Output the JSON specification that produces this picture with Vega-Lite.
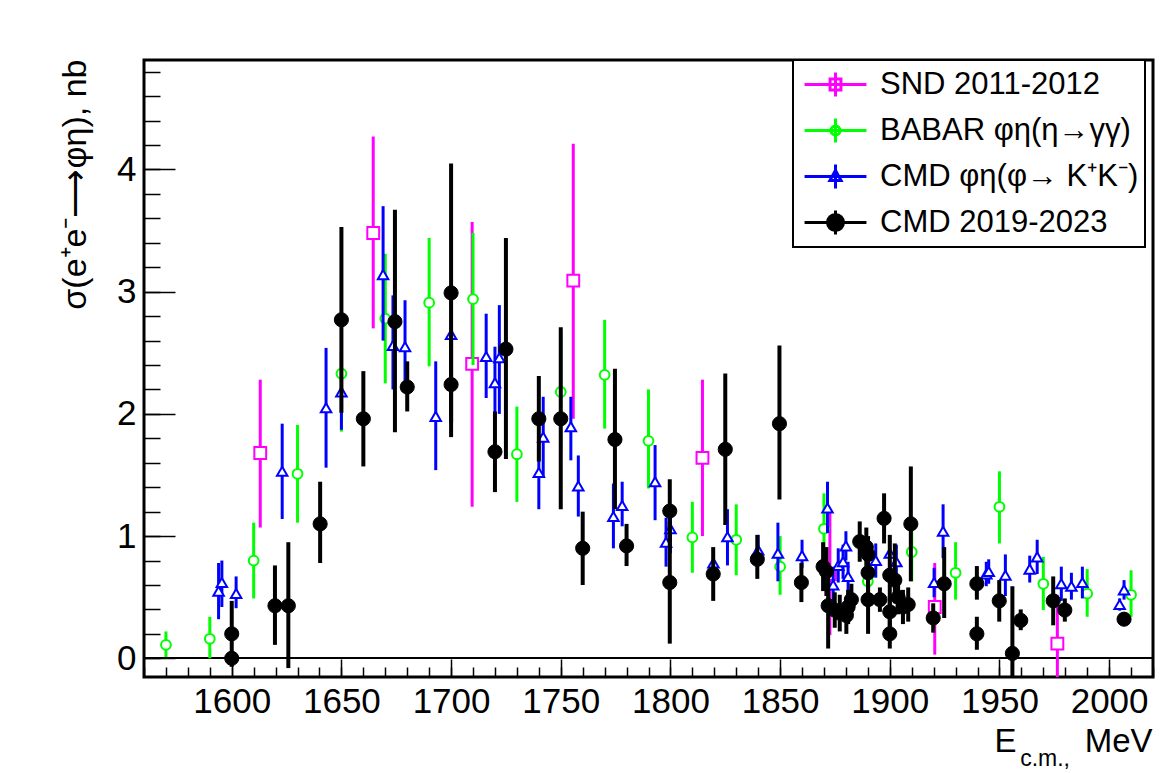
{
  "$schema": "https://vega.github.io/schema/vega-lite/v6.json",
  "width": 1009,
  "height": 617,
  "autosize": {"type": "none"},
  "padding": {"left": 144, "top": 60, "right": 20, "bottom": 96},
  "background": "white",
  "config": {
    "view": {"stroke": "black", "strokeWidth": 3, "fill": "white"},
    "font": "Liberation Sans",
    "legend": {"strokeWidth": 2},
    "axis": {"grid": false, "domain": false, "labelFont": "Liberation Sans", "labelFontSize": 35, "labelColor": "black", "titleFont": "Liberation Sans", "titleFontWeight": "normal", "titleColor": "black", "tickColor": "black", "tickWidth": 1.5, "labelFlush": false}
  },
  "resolve": {"axis": {"x": "independent", "y": "independent"}},
  "title": {"text": "c.m.,", "orient": "bottom", "anchor": "end", "frame": "group", "font": "Liberation Sans", "fontSize": 23, "fontWeight": "normal", "color": "black", "dx": -83, "dy": 4, "baseline": "alphabetic"},
  "data": {"values": [
    {"s":"SND","x":1613,"y":1.68,"lo":1.07,"hi":2.28},
    {"s":"SND","x":1664.5,"y":3.48,"lo":2.70,"hi":4.27},
    {"s":"SND","x":1709.6,"y":2.41,"lo":1.24,"hi":3.57},
    {"s":"SND","x":1755.7,"y":3.09,"lo":1.96,"hi":4.21},
    {"s":"SND","x":1814.6,"y":1.64,"lo":1.0,"hi":2.28},
    {"s":"SND","x":1872.7,"y":0.69,"lo":0.19,"hi":1.19},
    {"s":"SND","x":1920.5,"y":0.42,"lo":0.03,"hi":0.78},
    {"s":"SND","x":1976.4,"y":0.12,"lo":-0.28,"hi":0.52},
    {"s":"BABAR","x":1570,"y":0.11,"lo":0.01,"hi":0.22},
    {"s":"BABAR","x":1590,"y":0.16,"lo":0.0,"hi":0.34},
    {"s":"BABAR","x":1610,"y":0.80,"lo":0.49,"hi":1.11},
    {"s":"BABAR","x":1630,"y":1.51,"lo":1.11,"hi":1.91},
    {"s":"BABAR","x":1650,"y":2.33,"lo":1.855,"hi":2.81},
    {"s":"BABAR","x":1670,"y":2.78,"lo":2.25,"hi":3.31},
    {"s":"BABAR","x":1690,"y":2.91,"lo":2.39,"hi":3.44},
    {"s":"BABAR","x":1710,"y":2.94,"lo":2.40,"hi":3.48},
    {"s":"BABAR","x":1730,"y":1.67,"lo":1.28,"hi":2.06},
    {"s":"BABAR","x":1750,"y":2.18,"lo":1.70,"hi":2.66},
    {"s":"BABAR","x":1770,"y":2.32,"lo":1.88,"hi":2.77},
    {"s":"BABAR","x":1790,"y":1.78,"lo":1.39,"hi":2.20},
    {"s":"BABAR","x":1810,"y":0.99,"lo":0.70,"hi":1.28},
    {"s":"BABAR","x":1830,"y":0.97,"lo":0.68,"hi":1.26},
    {"s":"BABAR","x":1850,"y":0.75,"lo":0.52,"hi":1.00},
    {"s":"BABAR","x":1870,"y":1.06,"lo":0.77,"hi":1.35},
    {"s":"BABAR","x":1890,"y":0.63,"lo":0.40,"hi":0.86},
    {"s":"BABAR","x":1910,"y":0.87,"lo":0.63,"hi":1.11},
    {"s":"BABAR","x":1930,"y":0.70,"lo":0.48,"hi":0.95},
    {"s":"BABAR","x":1950,"y":1.24,"lo":0.94,"hi":1.53},
    {"s":"BABAR","x":1970,"y":0.61,"lo":0.395,"hi":0.83},
    {"s":"BABAR","x":1990,"y":0.53,"lo":0.34,"hi":0.73},
    {"s":"BABAR","x":2010,"y":0.52,"lo":0.34,"hi":0.72},
    {"s":"CMDphi","x":1594,"y":0.55,"lo":0.32,"hi":0.78},
    {"s":"CMDphi","x":1595.5,"y":0.62,"lo":0.42,"hi":0.80},
    {"s":"CMDphi","x":1602,"y":0.53,"lo":0.41,"hi":0.67},
    {"s":"CMDphi","x":1623,"y":1.53,"lo":1.14,"hi":1.92},
    {"s":"CMDphi","x":1643,"y":2.05,"lo":1.56,"hi":2.54},
    {"s":"CMDphi","x":1650,"y":2.18,"lo":1.87,"hi":2.50},
    {"s":"CMDphi","x":1669,"y":3.14,"lo":2.60,"hi":3.70},
    {"s":"CMDphi","x":1673.5,"y":2.56,"lo":2.20,"hi":2.97},
    {"s":"CMDphi","x":1679,"y":2.55,"lo":2.21,"hi":2.93},
    {"s":"CMDphi","x":1693,"y":1.98,"lo":1.54,"hi":2.43},
    {"s":"CMDphi","x":1700,"y":2.65,"lo":2.25,"hi":3.05},
    {"s":"CMDphi","x":1716,"y":2.47,"lo":2.13,"hi":2.82},
    {"s":"CMDphi","x":1720,"y":2.255,"lo":1.95,"hi":2.55},
    {"s":"CMDphi","x":1722,"y":2.46,"lo":2.00,"hi":2.89},
    {"s":"CMDphi","x":1740,"y":1.52,"lo":1.22,"hi":1.82},
    {"s":"CMDphi","x":1742,"y":1.81,"lo":1.48,"hi":2.14},
    {"s":"CMDphi","x":1754.6,"y":1.895,"lo":1.62,"hi":2.14},
    {"s":"CMDphi","x":1758,"y":1.41,"lo":1.16,"hi":1.66},
    {"s":"CMDphi","x":1774,"y":1.16,"lo":0.90,"hi":1.43},
    {"s":"CMDphi","x":1778,"y":1.25,"lo":1.08,"hi":1.445},
    {"s":"CMDphi","x":1793,"y":1.445,"lo":1.13,"hi":1.745},
    {"s":"CMDphi","x":1798,"y":0.95,"lo":0.75,"hi":1.15},
    {"s":"CMDphi","x":1800,"y":1.06,"lo":0.86,"hi":1.26},
    {"s":"CMDphi","x":1819.6,"y":0.78,"lo":0.66,"hi":0.90},
    {"s":"CMDphi","x":1826,"y":0.995,"lo":0.76,"hi":1.22},
    {"s":"CMDphi","x":1840,"y":0.886,"lo":0.77,"hi":1.01},
    {"s":"CMDphi","x":1849,"y":0.86,"lo":0.63,"hi":1.11},
    {"s":"CMDphi","x":1860,"y":0.84,"lo":0.74,"hi":0.97},
    {"s":"CMDphi","x":1871.6,"y":1.23,"lo":1.025,"hi":1.445},
    {"s":"CMDphi","x":1874.2,"y":0.60,"lo":0.45,"hi":0.75},
    {"s":"CMDphi","x":1876.5,"y":0.76,"lo":0.62,"hi":0.90},
    {"s":"CMDphi","x":1878.7,"y":0.79,"lo":0.65,"hi":0.93},
    {"s":"CMDphi","x":1880,"y":0.92,"lo":0.80,"hi":1.04},
    {"s":"CMDphi","x":1881,"y":0.67,"lo":0.55,"hi":0.79},
    {"s":"CMDphi","x":1893.6,"y":0.80,"lo":0.66,"hi":0.94},
    {"s":"CMDphi","x":1900,"y":0.86,"lo":0.72,"hi":1.00},
    {"s":"CMDphi","x":1903,"y":0.79,"lo":0.65,"hi":0.93},
    {"s":"CMDphi","x":1920.2,"y":0.62,"lo":0.50,"hi":0.74},
    {"s":"CMDphi","x":1924.3,"y":1.04,"lo":0.82,"hi":1.26},
    {"s":"CMDphi","x":1944,"y":0.69,"lo":0.59,"hi":0.79},
    {"s":"CMDphi","x":1945.1,"y":0.71,"lo":0.61,"hi":0.81},
    {"s":"CMDphi","x":1952.7,"y":0.68,"lo":0.51,"hi":0.85},
    {"s":"CMDphi","x":1963.8,"y":0.73,"lo":0.62,"hi":0.84},
    {"s":"CMDphi","x":1967.2,"y":0.83,"lo":0.69,"hi":0.97},
    {"s":"CMDphi","x":1978.2,"y":0.61,"lo":0.47,"hi":0.75},
    {"s":"CMDphi","x":1982.8,"y":0.59,"lo":0.48,"hi":0.70},
    {"s":"CMDphi","x":1987.8,"y":0.62,"lo":0.49,"hi":0.75},
    {"s":"CMDphi","x":2004.8,"y":0.44,"lo":0.39,"hi":0.49},
    {"s":"CMDphi","x":2006.8,"y":0.56,"lo":0.48,"hi":0.64},
    {"s":"CMD","x":1600,"y":0.00,"lo":-0.04,"hi":0.04},
    {"s":"CMD","x":1600,"y":0.20,"lo":-0.07,"hi":0.47},
    {"s":"CMD","x":1619.7,"y":0.43,"lo":0.11,"hi":0.76},
    {"s":"CMD","x":1625.8,"y":0.43,"lo":-0.08,"hi":0.95},
    {"s":"CMD","x":1640.3,"y":1.10,"lo":0.78,"hi":1.445},
    {"s":"CMD","x":1650,"y":2.77,"lo":2.01,"hi":3.53},
    {"s":"CMD","x":1660,"y":1.96,"lo":1.57,"hi":2.35},
    {"s":"CMD","x":1674.4,"y":2.755,"lo":1.85,"hi":3.67},
    {"s":"CMD","x":1680,"y":2.22,"lo":2.02,"hi":2.43},
    {"s":"CMD","x":1700,"y":2.99,"lo":1.93,"hi":4.05},
    {"s":"CMD","x":1700,"y":2.24,"lo":1.81,"hi":2.67},
    {"s":"CMD","x":1720,"y":1.69,"lo":1.36,"hi":2.02},
    {"s":"CMD","x":1725,"y":2.53,"lo":1.63,"hi":3.44},
    {"s":"CMD","x":1740,"y":1.96,"lo":1.61,"hi":2.31},
    {"s":"CMD","x":1750,"y":1.96,"lo":1.22,"hi":2.71},
    {"s":"CMD","x":1760,"y":0.90,"lo":0.60,"hi":1.20},
    {"s":"CMD","x":1774.7,"y":1.79,"lo":1.22,"hi":2.37},
    {"s":"CMD","x":1780,"y":0.92,"lo":0.755,"hi":1.10},
    {"s":"CMD","x":1799.7,"y":1.205,"lo":0.95,"hi":1.465},
    {"s":"CMD","x":1799.7,"y":0.62,"lo":0.12,"hi":1.12},
    {"s":"CMD","x":1819.5,"y":0.69,"lo":0.47,"hi":0.91},
    {"s":"CMD","x":1825,"y":1.71,"lo":1.09,"hi":2.33},
    {"s":"CMD","x":1839.6,"y":0.81,"lo":0.65,"hi":1.01},
    {"s":"CMD","x":1849.7,"y":1.92,"lo":1.30,"hi":2.56},
    {"s":"CMD","x":1859.7,"y":0.62,"lo":0.46,"hi":0.78},
    {"s":"CMD","x":1869.6,"y":0.75,"lo":0.55,"hi":0.95},
    {"s":"CMD","x":1871.1,"y":0.71,"lo":0.51,"hi":0.91},
    {"s":"CMD","x":1871.9,"y":0.43,"lo":0.08,"hi":0.78},
    {"s":"CMD","x":1874.9,"y":0.395,"lo":0.25,"hi":0.54},
    {"s":"CMD","x":1877.2,"y":0.37,"lo":0.22,"hi":0.52},
    {"s":"CMD","x":1880.2,"y":0.35,"lo":0.20,"hi":0.50},
    {"s":"CMD","x":1881,"y":0.42,"lo":0.28,"hi":0.56},
    {"s":"CMD","x":1882.5,"y":0.48,"lo":0.35,"hi":0.61},
    {"s":"CMD","x":1886.3,"y":0.955,"lo":0.79,"hi":1.12},
    {"s":"CMD","x":1889.3,"y":0.91,"lo":0.75,"hi":1.07},
    {"s":"CMD","x":1890.1,"y":0.85,"lo":0.70,"hi":1.00},
    {"s":"CMD","x":1890.1,"y":0.70,"lo":0.55,"hi":0.85},
    {"s":"CMD","x":1890.1,"y":0.48,"lo":0.20,"hi":0.76},
    {"s":"CMD","x":1895.5,"y":0.48,"lo":0.38,"hi":0.58},
    {"s":"CMD","x":1897.4,"y":1.145,"lo":0.94,"hi":1.35},
    {"s":"CMD","x":1900,"y":0.68,"lo":0.40,"hi":1.01},
    {"s":"CMD","x":1900,"y":0.38,"lo":0.25,"hi":0.51},
    {"s":"CMD","x":1900,"y":0.20,"lo":0.08,"hi":0.32},
    {"s":"CMD","x":1902.3,"y":0.64,"lo":0.45,"hi":0.94},
    {"s":"CMD","x":1903.8,"y":0.50,"lo":0.36,"hi":0.64},
    {"s":"CMD","x":1906,"y":0.42,"lo":0.28,"hi":0.56},
    {"s":"CMD","x":1908.4,"y":0.44,"lo":0.30,"hi":0.58},
    {"s":"CMD","x":1909.6,"y":1.10,"lo":0.63,"hi":1.57},
    {"s":"CMD","x":1919.8,"y":0.33,"lo":0.21,"hi":0.45},
    {"s":"CMD","x":1924.8,"y":0.61,"lo":0.33,"hi":0.91},
    {"s":"CMD","x":1939.7,"y":0.61,"lo":0.48,"hi":0.755},
    {"s":"CMD","x":1939.7,"y":0.20,"lo":0.07,"hi":0.34},
    {"s":"CMD","x":1949.9,"y":0.47,"lo":0.30,"hi":0.64},
    {"s":"CMD","x":1955.9,"y":0.04,"lo":-0.51,"hi":0.59},
    {"s":"CMD","x":1959.7,"y":0.31,"lo":0.23,"hi":0.40},
    {"s":"CMD","x":1974.5,"y":0.47,"lo":0.27,"hi":0.67},
    {"s":"CMD","x":1979.8,"y":0.395,"lo":0.30,"hi":0.49},
    {"s":"CMD","x":2006.8,"y":0.32,"lo":0.27,"hi":0.37}
  ]},
  "layer": [
    {
      "mark": {"type": "rule", "color": "black", "strokeWidth": 1},
      "encoding": {
        "y": {"datum": 0, "type": "quantitative", "scale": {"domain": [-0.153, 4.896], "nice": false, "zero": false}, "axis": null}
      }
    },
    {
      "transform": [{"filter": "datum.s === 'SND'"}],
      "mark": {"type": "rule", "color": "#ff00ff", "strokeWidth": 3, "clip": true},
      "encoding": {
        "x": {"field": "x", "type": "quantitative", "scale": {"domain": [1560, 2020], "nice": false, "zero": false}, "axis": null},
        "y": {"field": "lo", "type": "quantitative", "scale": {"domain": [-0.153, 4.896], "nice": false, "zero": false}, "axis": null},
        "y2": {"field": "hi"}
      }
    },
    {
      "transform": [{"filter": "datum.s === 'SND'"}],
      "mark": {"type": "point", "shape": "square", "filled": true, "fill": "white", "stroke": "#ff00ff", "strokeWidth": 2, "opacity": 1, "size": 140},
      "encoding": {
        "x": {"field": "x", "type": "quantitative", "scale": {"domain": [1560, 2020], "nice": false, "zero": false},
          "axis": {"orient": "bottom", "title": "E", "values": [1600,1650,1700,1750,1800,1850,1900,1950,2000],
            "tickSize": -18, "labelPadding": 25, "format": "d", "labelOverlap": false,
            "titleFontSize": 33, "titleX": 850, "titleY": 74, "titleAlign": "left", "titleBaseline": "alphabetic"}},
        "y": {"field": "y", "type": "quantitative", "scale": {"domain": [-0.153, 4.896], "nice": false, "zero": false},
          "axis": {"orient": "left", "title": "σ(e⁺e⁻⟶φη), nb", "values": [0,1,2,3,4],
            "tickSize": -31, "labelPadding": 39, "format": "d", "labelOverlap": false,
            "titleFontSize": 34, "titleAngle": -90, "titleX": -69, "titleY": -1, "titleAlign": "right", "titleBaseline": "middle"}}
      }
    },
    {
      "transform": [{"filter": "datum.s === 'BABAR'"}],
      "mark": {"type": "rule", "color": "#00ff00", "strokeWidth": 3, "clip": true},
      "encoding": {
        "x": {"field": "x", "type": "quantitative", "scale": {"domain": [1560, 2020], "nice": false, "zero": false}, "axis": null},
        "y": {"field": "lo", "type": "quantitative", "scale": {"domain": [-0.153, 4.896], "nice": false, "zero": false}, "axis": null},
        "y2": {"field": "hi"}
      }
    },
    {
      "transform": [{"filter": "datum.s === 'BABAR'"}],
      "mark": {"type": "point", "shape": "circle", "filled": true, "fill": "white", "stroke": "#00ff00", "strokeWidth": 2, "opacity": 1, "size": 95},
      "encoding": {
        "x": {"field": "x", "type": "quantitative", "scale": {"domain": [1560, 2020], "nice": false, "zero": false}, "axis": null},
        "y": {"field": "y", "type": "quantitative", "scale": {"domain": [-0.153, 4.896], "nice": false, "zero": false}, "axis": null}
      }
    },
    {
      "transform": [{"filter": "datum.s === 'CMDphi'"}],
      "mark": {"type": "rule", "color": "#0000ff", "strokeWidth": 3, "clip": true},
      "encoding": {
        "x": {"field": "x", "type": "quantitative", "scale": {"domain": [1560, 2020], "nice": false, "zero": false}, "axis": null},
        "y": {"field": "lo", "type": "quantitative", "scale": {"domain": [-0.153, 4.896], "nice": false, "zero": false}, "axis": null},
        "y2": {"field": "hi"}
      }
    },
    {
      "transform": [{"filter": "datum.s === 'CMDphi'"}],
      "mark": {"type": "point", "shape": "triangle-up", "filled": true, "fill": "white", "stroke": "#0000ff", "strokeWidth": 2, "opacity": 1, "size": 110},
      "encoding": {
        "x": {"field": "x", "type": "quantitative", "scale": {"domain": [1560, 2020], "nice": false, "zero": false}, "axis": null},
        "y": {"field": "y", "type": "quantitative", "scale": {"domain": [-0.153, 4.896], "nice": false, "zero": false}, "axis": null}
      }
    },
    {
      "transform": [{"filter": "datum.s === 'CMD'"}],
      "mark": {"type": "rule", "color": "black", "strokeWidth": 4, "clip": true},
      "encoding": {
        "x": {"field": "x", "type": "quantitative", "scale": {"domain": [1560, 2020], "nice": false, "zero": false}, "axis": null},
        "y": {"field": "lo", "type": "quantitative", "scale": {"domain": [-0.153, 4.896], "nice": false, "zero": false}, "axis": null},
        "y2": {"field": "hi"}
      }
    },
    {
      "transform": [{"filter": "datum.s === 'CMD'"}],
      "mark": {"type": "point", "shape": "circle", "filled": true, "fill": "black", "stroke": "black", "strokeWidth": 1, "opacity": 1, "size": 200},
      "encoding": {
        "x": {"field": "x", "type": "quantitative", "scale": {"domain": [1560, 2020], "nice": false, "zero": false}, "axis": null},
        "y": {"field": "y", "type": "quantitative", "scale": {"domain": [-0.153, 4.896], "nice": false, "zero": false}, "axis": null}
      }
    },
    {
      "mark": {"type": "point", "opacity": 0, "size": 1},
      "encoding": {
        "x": {"field": "x", "type": "quantitative", "scale": {"domain": [1560, 2020], "nice": false, "zero": false},
          "axis": {"orient": "bottom", "title": "MeV", "labels": false, "values": [1560,1570,1580,1590,1600,1610,1620,1630,1640,1650,1660,1670,1680,1690,1700,1710,1720,1730,1740,1750,1760,1770,1780,1790,1800,1810,1820,1830,1840,1850,1860,1870,1880,1890,1900,1910,1920,1930,1940,1950,1960,1970,1980,1990,2000,2010,2020], "tickSize": -10,
            "titleFontSize": 33, "titleX": 1008, "titleY": 74, "titleAlign": "right", "titleBaseline": "alphabetic"}},
        "y": {"field": "y", "type": "quantitative", "scale": {"domain": [-0.153, 4.896], "nice": false, "zero": false},
          "axis": {"orient": "left", "title": null, "labels": false, "values": [0,0.2,0.4,0.6,0.8,1,1.2,1.4,1.6,1.8,2,2.2,2.4,2.6,2.8,3,3.2,3.4,3.6,3.8,4,4.2,4.4,4.6,4.8], "tickSize": -16}},
        "shape": {"field": "s", "type": "nominal",
          "scale": {"domain": ["SND","BABAR","CMDphi","CMD"], "range": [
            "M-1.82,0H1.82M0,-0.7V0.7M-0.32,-0.32H0.32V0.32H-0.32Z",
            "M-1.82,0H1.82M0,-0.7V0.7M0.27,0A0.27,0.27,0,1,1,-0.27,0A0.27,0.27,0,1,1,0.27,0Z",
            "M-1.82,0H1.82M0,-0.7V0.7M0,-0.36L0.33,0.24H-0.33Z",
            "M-1.82,0H1.82M0,-0.7V0.7M0.47,0A0.47,0.47,0,1,1,-0.47,0A0.47,0.47,0,1,1,0.47,0Z"]},
          "legend": {
            "title": null, "orient": "none", "legendX": 649, "legendY": 0,
            "padding": 6, "rowPadding": 9,
            "fillColor": "white", "strokeColor": "black",
            "symbolSize": 1156, "symbolStrokeWidth": 3, "symbolOpacity": 1, "symbolOffset": 18, "labelOffset": 26,
            "labelFont": "Liberation Sans", "labelFontSize": 31, "labelColor": "black", "labelLimit": 500,
            "labelExpr": "['SND 2011-2012','BABAR φη(η→γγ)','CMD φη(φ→ K⁺K⁻)','CMD 2019-2023'][indexof(['SND','BABAR','CMDphi','CMD'], datum.value)]"
          }},
        "stroke": {"field": "s", "type": "nominal", "scale": {"domain": ["SND","BABAR","CMDphi","CMD"], "range": ["#ff00ff","#00ff00","#0000ff","#000000"]},
          "legend": {
            "title": null, "orient": "none", "legendX": 649, "legendY": 0,
            "padding": 6, "rowPadding": 9,
            "fillColor": "white", "strokeColor": "black",
            "symbolSize": 1156, "symbolStrokeWidth": 3, "symbolOpacity": 1, "symbolOffset": 18, "labelOffset": 26,
            "labelFont": "Liberation Sans", "labelFontSize": 31, "labelColor": "black", "labelLimit": 500,
            "labelExpr": "['SND 2011-2012','BABAR φη(η→γγ)','CMD φη(φ→ K⁺K⁻)','CMD 2019-2023'][indexof(['SND','BABAR','CMDphi','CMD'], datum.value)]"
          }},
        "fill": {"field": "s", "type": "nominal", "scale": {"domain": ["SND","BABAR","CMDphi","CMD"], "range": ["white","white","white","black"]},
          "legend": {
            "title": null, "orient": "none", "legendX": 649, "legendY": 0,
            "padding": 6, "rowPadding": 9,
            "fillColor": "white", "strokeColor": "black",
            "symbolSize": 1156, "symbolStrokeWidth": 3, "symbolOpacity": 1, "symbolOffset": 18, "labelOffset": 26,
            "labelFont": "Liberation Sans", "labelFontSize": 31, "labelColor": "black", "labelLimit": 500,
            "labelExpr": "['SND 2011-2012','BABAR φη(η→γγ)','CMD φη(φ→ K⁺K⁻)','CMD 2019-2023'][indexof(['SND','BABAR','CMDphi','CMD'], datum.value)]"
          }}
      }
    }
  ]
}
